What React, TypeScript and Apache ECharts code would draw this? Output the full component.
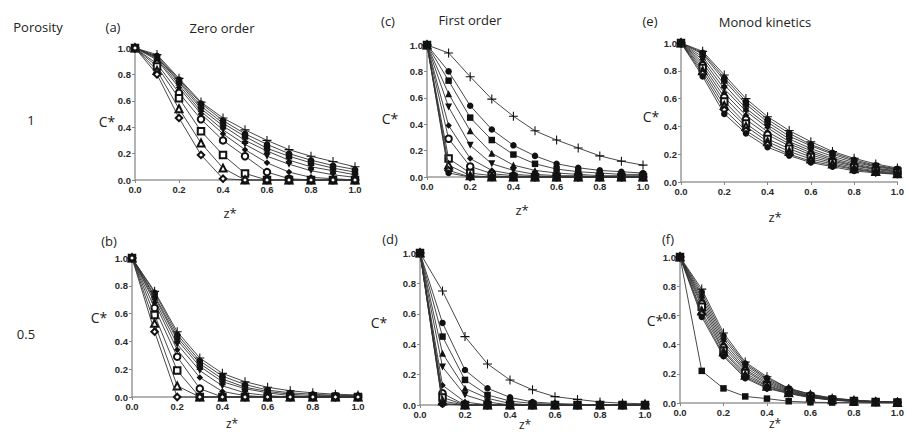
import React, { useEffect, useRef } from "react";
import * as echarts from "echarts";

const zValues = [0, 0.1, 0.2, 0.3, 0.4, 0.5, 0.6, 0.7, 0.8, 0.9, 1.0];
const xTicks = ["0.0", "0.2", "0.4", "0.6", "0.8", "1.0"];

// (a) Zero order, porosity 1
const zeroOrderP1 = [
  [1, 0.95, 0.77, 0.59, 0.47, 0.38, 0.3, 0.23, 0.18, 0.14, 0.1],
  [1, 0.94, 0.76, 0.58, 0.45, 0.35, 0.27, 0.2, 0.15, 0.11, 0.08],
  [1, 0.93, 0.75, 0.56, 0.43, 0.33, 0.24, 0.18, 0.13, 0.09, 0.06],
  [1, 0.93, 0.74, 0.54, 0.41, 0.3, 0.22, 0.15, 0.1, 0.07, 0.04],
  [1, 0.92, 0.72, 0.52, 0.38, 0.27, 0.18, 0.12, 0.07, 0.04, 0.02],
  [1, 0.91, 0.7, 0.5, 0.35, 0.23, 0.13, 0.06, 0.02, 0.01, 0],
  [1, 0.88, 0.66, 0.46, 0.3, 0.18, 0.06, 0.01, 0, 0, 0],
  [1, 0.86, 0.62, 0.37, 0.19, 0.05, 0, 0, 0, 0, 0],
  [1, 0.83, 0.54, 0.28, 0.09, 0, 0, 0, 0, 0, 0],
  [1, 0.8, 0.47, 0.19, 0.01, 0, 0, 0, 0, 0, 0],
];

// (b) Zero order, porosity 0.5
const zeroOrderP05 = [
  [1, 0.76, 0.47, 0.28, 0.17, 0.11, 0.07, 0.045, 0.03, 0.02, 0.015],
  [1, 0.75, 0.45, 0.26, 0.15, 0.09, 0.05, 0.03, 0.02, 0.012, 0.01],
  [1, 0.73, 0.43, 0.24, 0.13, 0.07, 0.04, 0.02, 0.01, 0.01, 0.005],
  [1, 0.72, 0.41, 0.22, 0.11, 0.06, 0.03, 0.01, 0, 0, 0],
  [1, 0.7, 0.38, 0.19, 0.08, 0.03, 0.01, 0, 0, 0, 0],
  [1, 0.68, 0.34, 0.14, 0.04, 0.01, 0, 0, 0, 0, 0],
  [1, 0.64, 0.29, 0.06, 0, 0, 0, 0, 0, 0, 0],
  [1, 0.59, 0.19, 0, 0, 0, 0, 0, 0, 0, 0],
  [1, 0.53, 0.08, 0, 0, 0, 0, 0, 0, 0, 0],
  [1, 0.47, 0, 0, 0, 0, 0, 0, 0, 0, 0],
];

// (c) First order, porosity 1
const firstOrderP1 = [
  [1, 0.94, 0.76, 0.59, 0.46, 0.35, 0.28, 0.22, 0.16, 0.12, 0.09],
  [1, 0.8, 0.54, 0.36, 0.24, 0.16, 0.1, 0.07, 0.05, 0.04, 0.03],
  [1, 0.73, 0.45, 0.28, 0.17, 0.1, 0.06, 0.04, 0.03, 0.02, 0.02],
  [1, 0.63, 0.35, 0.18, 0.09, 0.05, 0.03, 0.02, 0.01, 0.01, 0.01],
  [1, 0.53, 0.24, 0.1, 0.05, 0.02, 0.01, 0.01, 0, 0, 0],
  [1, 0.39, 0.14, 0.05, 0.02, 0.01, 0, 0, 0, 0, 0],
  [1, 0.29, 0.08, 0.025, 0.01, 0, 0, 0, 0, 0, 0],
  [1, 0.14, 0.03, 0.01, 0, 0, 0, 0, 0, 0, 0],
  [1, 0.09, 0.01, 0, 0, 0, 0, 0, 0, 0, 0],
  [1, 0.05, 0, 0, 0, 0, 0, 0, 0, 0, 0],
  [1, 0.03, 0, 0, 0, 0, 0, 0, 0, 0, 0],
];

// (d) First order, porosity 0.5
const firstOrderP05 = [
  [1, 0.75, 0.45, 0.27, 0.165, 0.1, 0.055, 0.037, 0.02, 0.012, 0.008],
  [1, 0.54, 0.23, 0.11, 0.05, 0.02, 0.01, 0.005, 0, 0, 0],
  [1, 0.45, 0.165, 0.066, 0.026, 0.01, 0.005, 0, 0, 0, 0],
  [1, 0.34, 0.11, 0.044, 0.01, 0, 0, 0, 0, 0, 0],
  [1, 0.25, 0.066, 0.02, 0, 0, 0, 0, 0, 0, 0],
  [1, 0.13, 0.02, 0, 0, 0, 0, 0, 0, 0, 0],
  [1, 0.077, 0, 0, 0, 0, 0, 0, 0, 0, 0],
  [1, 0.05, 0, 0, 0, 0, 0, 0, 0, 0, 0],
  [1, 0.026, 0, 0, 0, 0, 0, 0, 0, 0, 0],
  [1, 0.01, 0, 0, 0, 0, 0, 0, 0, 0, 0],
  [1, 0.005, 0, 0, 0, 0, 0, 0, 0, 0, 0],
];

// (e) Monod kinetics, porosity 1
const monodP1 = [
  [1, 0.94, 0.77, 0.6, 0.47, 0.37, 0.29, 0.22, 0.17, 0.13, 0.1],
  [1, 0.93, 0.75, 0.58, 0.45, 0.35, 0.27, 0.21, 0.16, 0.12, 0.095],
  [1, 0.92, 0.73, 0.56, 0.43, 0.33, 0.26, 0.2, 0.15, 0.115, 0.09],
  [1, 0.9, 0.7, 0.53, 0.41, 0.31, 0.24, 0.185, 0.14, 0.11, 0.085],
  [1, 0.88, 0.67, 0.51, 0.39, 0.29, 0.225, 0.17, 0.13, 0.1, 0.08],
  [1, 0.86, 0.64, 0.48, 0.36, 0.275, 0.21, 0.16, 0.12, 0.095, 0.075],
  [1, 0.84, 0.61, 0.45, 0.34, 0.26, 0.195, 0.15, 0.115, 0.09, 0.07],
  [1, 0.82, 0.58, 0.42, 0.31, 0.24, 0.18, 0.14, 0.105, 0.08, 0.065],
  [1, 0.8, 0.55, 0.4, 0.29, 0.22, 0.165, 0.13, 0.095, 0.075, 0.06],
  [1, 0.78, 0.52, 0.37, 0.27, 0.2, 0.15, 0.12, 0.09, 0.07, 0.057],
  [1, 0.76, 0.49, 0.35, 0.25, 0.19, 0.14, 0.11, 0.08, 0.065, 0.055],
];

// (f) Monod kinetics, porosity 0.5
const monodP05 = [
  [1, 0.78, 0.48, 0.28, 0.18, 0.1, 0.06, 0.035, 0.02, 0.01, 0.005],
  [1, 0.76, 0.46, 0.27, 0.17, 0.1, 0.06, 0.03, 0.02, 0.01, 0.005],
  [1, 0.74, 0.44, 0.26, 0.16, 0.095, 0.055, 0.03, 0.018, 0.01, 0.005],
  [1, 0.72, 0.42, 0.245, 0.15, 0.09, 0.05, 0.028, 0.016, 0.009, 0.004],
  [1, 0.7, 0.4, 0.23, 0.14, 0.085, 0.048, 0.026, 0.015, 0.008, 0.004],
  [1, 0.68, 0.38, 0.22, 0.13, 0.08, 0.045, 0.025, 0.014, 0.008, 0.004],
  [1, 0.66, 0.36, 0.205, 0.12, 0.075, 0.042, 0.023, 0.013, 0.007, 0.003],
  [1, 0.63, 0.35, 0.19, 0.115, 0.07, 0.04, 0.022, 0.012, 0.007, 0.003],
  [1, 0.61, 0.33, 0.18, 0.105, 0.068, 0.038, 0.02, 0.011, 0.006, 0.003],
  [1, 0.59, 0.32, 0.17, 0.1, 0.065, 0.036, 0.02, 0.01, 0.006, 0.003],
  [1, 0.22, 0.1, 0.045, 0.03, 0.012, 0.005, 0.003, 0.002, 0.001, 0.001],
];

const PLUS = "path://M4.4,0H5.6V4.4H10V5.6H5.6V10H4.4V5.6H0V4.4H4.4Z";
const INV_TRI = "path://M0,0H10L5,9Z";
const symbolsStd = [
  PLUS, "circle", "rect", "triangle", INV_TRI, "diamond",
  "emptyCircle", "emptyRect", "emptyTriangle", "emptyDiamond", "circle",
];
const symbolsF = [
  PLUS, "circle", "triangle", INV_TRI, "diamond",
  "emptyCircle", "emptyRect", "emptyTriangle", "emptyDiamond", "circle", "rect",
];

const grids = [
  { left: 135, top: 48, width: 220, height: 132 }, // a
  { left: 132, top: 258, width: 226, height: 139 }, // b
  { left: 427, top: 45, width: 216, height: 132 }, // c
  { left: 420, top: 253, width: 225, height: 152 }, // d
  { left: 681, top: 43, width: 224, height: 139 }, // e
  { left: 680, top: 257, width: 226, height: 146 }, // f
];

const panels = [
  { data: zeroOrderP1, symbols: symbolsStd },
  { data: zeroOrderP05, symbols: symbolsStd },
  { data: firstOrderP1, symbols: symbolsStd },
  { data: firstOrderP05, symbols: symbolsStd },
  { data: monodP1, symbols: symbolsStd },
  { data: monodP05, symbols: symbolsF },
];

const labelFont = "'Open Sans', 'Noto Sans', sans-serif";

function txt(text: string, x: number, y: number, size = 13, align = "center") {
  return {
    type: "text",
    x,
    y,
    silent: true,
    style: {
      text,
      fontSize: size,
      fontFamily: labelFont,
      fill: "#222",
      textAlign: align,
      textVerticalAlign: "middle",
    },
  };
}

export default function App() {
  const ref = useRef<HTMLDivElement>(null);
  useEffect(() => {
    if (!ref.current) return;
    const chart = echarts.init(ref.current, null, { renderer: "svg" });
    const axisCommon = (i: number) => ({
      gridIndex: i,
      type: "value",
      min: 0,
      max: 1,
      interval: 0.2,
      splitLine: { show: false },
      axisLine: { show: true, onZero: false, lineStyle: { color: "#9a9a9a", width: 1.5 } },
      axisTick: { show: true, length: 3, lineStyle: { color: "#888", width: 1 } },
      axisLabel: {
        fontSize: 9.5,
        fontWeight: "bold",
        color: "#2a2a2a",
        fontFamily: "'Liberation Sans', Arial, sans-serif",
        margin: 4,
        formatter: (v: number) => xTicks[Math.round(v * 5)] ?? v.toFixed(1),
      },
    });
    const series: any[] = [];
    panels.forEach((p, gi) => {
      p.data.forEach((vals, si) => {
        const sym = p.symbols[si % p.symbols.length];
        const isPlus = sym === PLUS;
        series.push({
          type: "line",
          xAxisIndex: gi,
          yAxisIndex: gi,
          clip: false,
          data: vals.map((v, k) => [zValues[k], v]),
          symbol: sym,
          symbolSize: isPlus ? 9 : sym.indexOf("ri") >= 0 || sym === INV_TRI ? 7 : 6.5,
          showAllSymbol: true,
          lineStyle: { color: "#333", width: 0.9 },
          itemStyle: { color: "#111", borderColor: "#111", borderWidth: sym.startsWith("empty") ? 1.2 : 0 },
          z: 2 + si,
        });
      });
    });
    const graphics = [
      txt("Porosity", 38, 27),
      txt("1", 31, 120),
      txt("0.5", 26, 334),
      txt("(a)", 113, 27),
      txt("Zero order", 222, 28),
      txt("(c)", 388, 21),
      txt("First order", 470, 20),
      txt("(e)", 650, 21),
      txt("Monod kinetics", 765, 22),
      txt("(b)", 109, 241),
      txt("(d)", 390, 239),
      txt("(f)", 668, 239),
      txt("C*", 107, 121, 14),
      txt("C*", 99, 317, 14),
      txt("C*", 390, 118, 14),
      txt("C*", 379, 322, 14),
      txt("C*", 651, 116, 14),
      txt("C*", 655, 320, 14),
      txt("z*", 230, 213),
      txt("z*", 522, 210),
      txt("z*", 775, 217),
      txt("z*", 232, 423, 12),
      txt("z*", 525, 424, 12),
      txt("z*", 775, 423, 12),
    ];
    chart.setOption({
      animation: false,
      backgroundColor: "#fff",
      grid: grids.map((g) => ({ ...g, containLabel: false })),
      xAxis: grids.map((_, i) => axisCommon(i)),
      yAxis: grids.map((_, i) => axisCommon(i)),
      series,
      graphic: graphics,
    });
    return () => chart.dispose();
  }, []);
  return (
    <div
      ref={ref}
      style={{ position: "fixed", left: 0, top: 0, width: 907, height: 432, background: "#fff" }}
    />
  );
}
